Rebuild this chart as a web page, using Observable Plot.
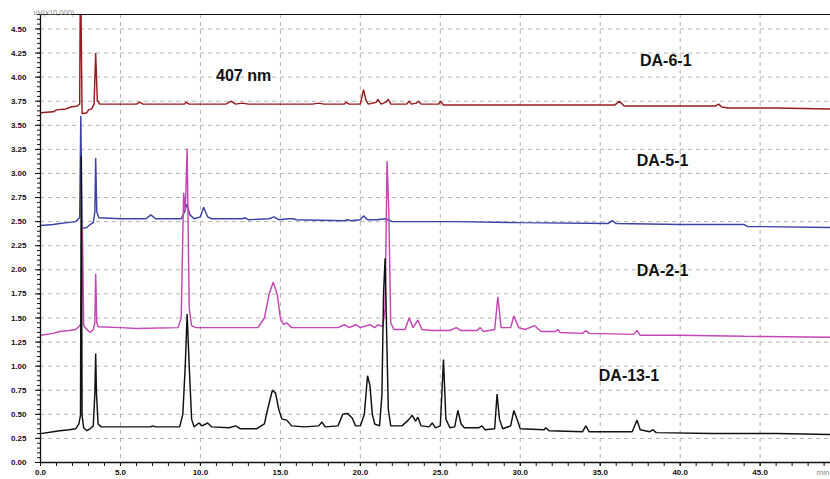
<!DOCTYPE html>
<html>
<head>
<meta charset="utf-8">
<script src="https://cdn.jsdelivr.net/npm/d3@7"></script>
<script src="https://cdn.jsdelivr.net/npm/@observablehq/plot@0.6"></script>
<style>
  html, body { margin: 0; padding: 0; background: #fff; }
  #chart svg { display: block; }
</style>
</head>
<body>
<div id="chart"></div>
<script>
// Retention time (min) and detector response (uV x10,000) at 407 nm
const da61 = [
  [0,3.63],[0.8,3.64],[1.0,3.66],[1.6,3.67],[1.9,3.69],[2.3,3.70],[2.45,3.72],[2.5,5.2],[2.6,3.62],[2.9,3.63],
  [3.0,3.66],[3.2,3.67],[3.35,3.72],[3.45,4.25],[3.55,3.76],[3.7,3.72],[5.0,3.72],[6.0,3.72],[6.2,3.74],[6.4,3.72],
  [9.0,3.72],[9.1,3.74],[9.3,3.72],[11.6,3.72],[11.9,3.75],[12.2,3.72],[12.6,3.73],[13,3.72],[17.0,3.72],[17.4,3.73],
  [17.7,3.72],[19.0,3.72],[19.1,3.74],[19.3,3.72],[20.0,3.72],[20.2,3.87],[20.35,3.76],[20.5,3.72],[21.0,3.74],[21.1,3.77],
  [21.3,3.72],[21.6,3.74],[21.75,3.77],[21.9,3.72],[22.9,3.72],[23.05,3.75],[23.2,3.72],[23.5,3.73],[23.65,3.75],[23.8,3.72],
  [24.9,3.72],[25.0,3.75],[25.2,3.71],[26,3.71],[30,3.71],[33,3.71],[35.9,3.71],[36.2,3.75],[36.5,3.70],[40,3.70],
  [42.2,3.70],[42.4,3.72],[42.6,3.69],[43,3.68],[46,3.68],[49.4,3.67]
];
const da51 = [
  [0,2.46],[0.8,2.47],[1.2,2.48],[1.7,2.49],[2.2,2.50],[2.45,2.54],[2.52,3.6],[2.6,2.43],[2.9,2.44],[3.1,2.47],
  [3.3,2.49],[3.4,2.6],[3.45,3.16],[3.52,2.6],[3.65,2.54],[5,2.53],[6.6,2.53],[6.9,2.57],[7.2,2.53],[8.8,2.53],
  [9.0,2.6],[9.15,2.68],[9.35,2.57],[9.6,2.53],[10.0,2.55],[10.2,2.65],[10.45,2.55],[10.7,2.53],[12.6,2.53],[12.8,2.54],
  [13.0,2.52],[14.3,2.53],[14.6,2.55],[14.9,2.52],[15.5,2.53],[15.8,2.53],[16.0,2.52],[19.0,2.51],[19.2,2.52],[19.4,2.51],
  [20.0,2.52],[20.2,2.56],[20.45,2.52],[21.0,2.52],[21.6,2.53],[22,2.50],[23,2.50],[26,2.50],[30,2.49],[35.5,2.48],
  [35.75,2.51],[36.0,2.48],[40,2.47],[44,2.47],[44.2,2.45],[49.4,2.44]
];
const da21 = [
  [0,1.32],[0.8,1.34],[1.2,1.36],[1.8,1.37],[2.2,1.38],[2.45,1.42],[2.55,1.45],[2.62,2.45],[2.7,1.42],[2.9,1.38],
  [3.1,1.35],[3.3,1.38],[3.4,1.45],[3.45,1.96],[3.52,1.45],[3.6,1.41],[5,1.40],[6,1.39],[8.6,1.40],[8.8,1.5],
  [8.95,2.8],[9.05,2.6],[9.17,3.26],[9.3,1.6],[9.45,1.42],[9.7,1.40],[12,1.40],[13.6,1.40],[14.0,1.5],[14.3,1.75],
  [14.55,1.87],[14.8,1.75],[15.0,1.5],[15.2,1.43],[15.4,1.45],[15.7,1.40],[18.6,1.40],[19.0,1.43],[19.3,1.40],[19.7,1.43],
  [20.0,1.40],[20.6,1.43],[20.9,1.40],[21.1,1.43],[21.4,1.41],[21.55,1.6],[21.67,3.13],[21.78,2.61],[21.9,1.45],[22.1,1.38],
  [22.8,1.38],[23.05,1.50],[23.3,1.40],[23.6,1.48],[23.85,1.38],[24.5,1.37],[25,1.37],[25.6,1.37],[26.0,1.40],[26.3,1.37],
  [27.3,1.37],[27.5,1.40],[27.7,1.36],[28.4,1.38],[28.6,1.72],[28.8,1.40],[29.4,1.40],[29.6,1.52],[29.9,1.40],[30.3,1.38],
  [30.9,1.42],[31.3,1.36],[32.2,1.36],[32.35,1.38],[32.5,1.35],[33.9,1.34],[34.1,1.37],[34.3,1.34],[37.1,1.33],[37.3,1.37],
  [37.5,1.32],[40,1.32],[44,1.31],[49.4,1.30]
];
const da131 = [
  [0,0.30],[0.8,0.32],[1.2,0.33],[1.8,0.34],[2.2,0.35],[2.4,0.40],[2.5,0.49],[2.55,3.18],[2.6,0.49],[2.7,0.36],
  [2.9,0.33],[3.1,0.35],[3.3,0.38],[3.4,0.72],[3.45,1.13],[3.5,0.72],[3.6,0.40],[3.8,0.37],[5,0.37],[6.9,0.37],
  [7.0,0.38],[7.2,0.37],[8.7,0.37],[8.9,0.5],[9.05,1.0],[9.17,1.54],[9.3,1.0],[9.45,0.45],[9.6,0.37],[9.9,0.41],
  [10.1,0.38],[10.45,0.41],[10.7,0.37],[11.8,0.36],[12.2,0.38],[12.5,0.35],[13.5,0.35],[14.0,0.40],[14.2,0.55],[14.5,0.75],
  [14.7,0.72],[14.9,0.55],[15.1,0.45],[15.4,0.44],[15.7,0.38],[16.5,0.37],[17.4,0.38],[17.6,0.42],[17.8,0.37],[18.6,0.38],
  [18.9,0.50],[19.2,0.51],[19.5,0.46],[19.7,0.38],[20.0,0.38],[20.25,0.50],[20.45,0.90],[20.6,0.80],[20.75,0.50],[20.9,0.40],
  [21.2,0.38],[21.35,0.70],[21.45,1.75],[21.55,2.12],[21.65,1.3],[21.75,0.55],[21.9,0.38],[22.6,0.38],[23.0,0.44],[23.25,0.49],
  [23.45,0.43],[23.6,0.47],[23.8,0.38],[24.3,0.37],[24.5,0.41],[24.7,0.36],[25.0,0.38],[25.2,1.07],[25.35,0.45],[25.6,0.36],
  [25.9,0.37],[26.1,0.54],[26.3,0.40],[26.5,0.36],[27.4,0.36],[27.6,0.38],[27.8,0.34],[28.4,0.35],[28.55,0.71],[28.7,0.45],
  [28.9,0.35],[29.4,0.38],[29.6,0.54],[29.8,0.45],[30.0,0.35],[31.5,0.34],[31.6,0.36],[31.8,0.33],[33.9,0.32],[34.1,0.38],
  [34.3,0.32],[37.0,0.32],[37.2,0.40],[37.3,0.44],[37.5,0.34],[38.1,0.32],[38.3,0.34],[38.5,0.31],[42,0.30],[46,0.30],
  [49.4,0.29]
];

const seriesNames = ["DA-6-1", "DA-5-1", "DA-2-1", "DA-13-1"];
const seriesColors = ["#961c1f", "#3d42a6", "#c445b4", "#111111"];

// Sample labels placed beside each trace, plus the wavelength note
const labelText = ["DA-6-1", "DA-5-1", "DA-2-1", "DA-13-1", "407 nm"];
const labelTime = [39.1, 38.9, 38.9, 36.8, 12.7];
const labelValue = [4.17, 3.13, 1.99, 0.90, 4.01];

// Axis ticks
const xTicks = [0, 5, 10, 15, 20, 25, 30, 35, 40, 45];
const xMinor = d3.range(0, 50, 1);
const yTicks = d3.range(0, 4.51, 0.25);
const yMinor = d3.range(0, 4.651, 0.05);
const xMax = 49.4;
const yMax = 4.65;

const traces = [da61, da51, da21, da131].flatMap((pts, i) =>
  pts.map(([t, v]) => ({sample: seriesNames[i], t, v}))
);
const labels = labelText.map((text, i) => ({text, t: labelTime[i], v: labelValue[i]}));

const tickFont = {fontFamily: "'Liberation Sans Narrow', 'Liberation Sans', sans-serif", fontSize: 8, fontWeight: "bold"};

const chart = Plot.plot({
  width: 830,
  height: 479,
  marginLeft: 40,
  marginRight: 0,
  marginTop: 14,
  marginBottom: 17,
  x: {domain: [0, xMax]},
  y: {domain: [0, yMax]},
  color: {domain: seriesNames, range: seriesColors},
  style: {background: "#fff"},
  marks: [
    Plot.gridY(yTicks.filter(d => d > 0), {stroke: "#9a9a9a", strokeOpacity: 0.75, strokeDasharray: "4,4"}),
    Plot.gridX(xTicks.filter(d => d > 0), {stroke: "#9a9a9a", strokeOpacity: 0.75, strokeDasharray: "4,4"}),
    Plot.line(traces, {x: "t", y: "v", z: "sample", stroke: "sample", strokeWidth: 1.45, clip: true, strokeLinejoin: "miter"}),
    Plot.ruleY([yMax], {stroke: "#111", strokeWidth: 1}),
    Plot.ruleY([0], {stroke: "#111", strokeWidth: 1.3}),
    Plot.ruleX([0], {stroke: "#111", strokeWidth: 1.3}),
    Plot.axisY({ticks: yMinor, tickSize: 3, tickFormat: () => "", label: null, stroke: "#111"}),
    Plot.axisY({ticks: yTicks, tickSize: 5, tickPadding: 9, tickFormat: d3.format(".2f"), label: null, stroke: "#111", fill: "#111", ...tickFont}),
    Plot.axisX({ticks: xMinor, tickSize: 4, tickFormat: () => "", label: null, stroke: "#111"}),
    Plot.axisX({ticks: xTicks, tickSize: 4, tickPadding: 3, tickFormat: d3.format(".1f"), label: null, stroke: "#111", fill: "#111", ...tickFont}),
    Plot.text(["uV(x10,000)"], {frameAnchor: "top-left", dx: -7, dy: -5, textAnchor: "start", fontSize: 7.5, fill: "#888", fontFamily: "'Liberation Sans', sans-serif"}),
    Plot.text(["min"], {frameAnchor: "bottom-right", dx: -1, dy: 12, textAnchor: "end", fontSize: 8, fill: "#888", fontFamily: "'Liberation Sans', sans-serif"}),
    Plot.text(labels, {x: "t", y: "v", text: "text", fontSize: 16, fontWeight: "bold", fill: "#111", fontFamily: "'Liberation Sans', Arial, sans-serif"})
  ]
});

document.getElementById("chart").appendChild(chart);
</script>
</body>
</html>
